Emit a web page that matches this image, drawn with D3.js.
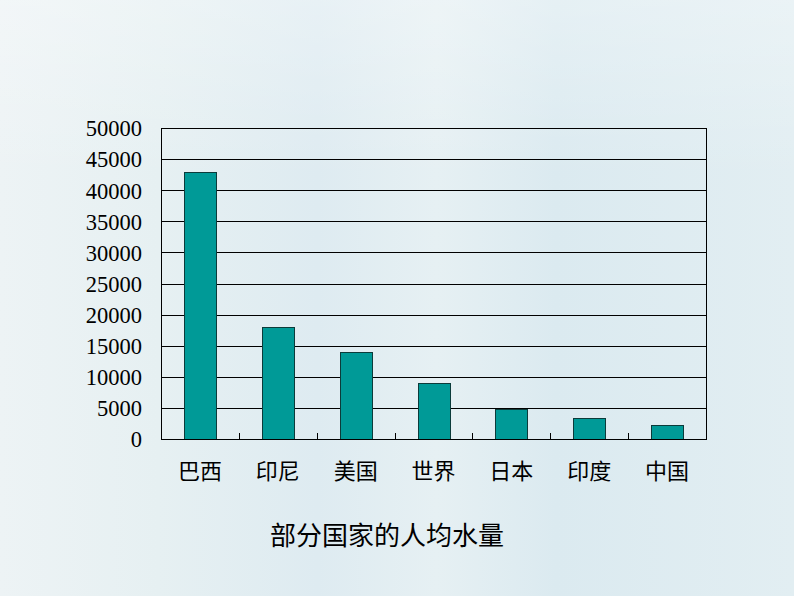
<!DOCTYPE html>
<html>
<head>
<meta charset="utf-8">
<script src="https://cdn.jsdelivr.net/npm/d3@7/dist/d3.min.js"></script>
<style>
  html, body { margin: 0; padding: 0; }
  body { width: 794px; height: 596px; overflow: hidden; }
  .ynum { font-family: "Liberation Serif", "Times New Roman", "DejaVu Serif", serif; }
  .cjk { font-family: "Noto Sans CJK SC", "Noto Sans", sans-serif; }
</style>
</head>
<body>
<svg id="chart" width="794" height="596"></svg>
<script>
// data
const countries = ["巴西", "印尼", "美国", "世界", "日本", "印度", "中国"];
const waterPerPerson = [43000, 18000, 14000, 9000, 4800, 3400, 2200];
const yTicks = [0, 5000, 10000, 15000, 20000, 25000, 30000, 35000, 40000, 45000, 50000];
const chartTitle = "部分国家的人均水量";

const svg = d3.select("#chart");
const W = 794, H = 596;
const plot = { left: 161, right: 706, top: 128, bottom: 439 };

// background: pale blue with soft light streaks
const defs = svg.append("defs");
const bg = defs.append("linearGradient").attr("id", "bg").attr("x1", 0).attr("y1", 0).attr("x2", 1).attr("y2", 0);
[["0%", "#edf3f5"], ["20%", "#e6f0f2"], ["40%", "#deebf1"], ["55%", "#e6f0f3"], ["70%", "#dbeaf0"], ["100%", "#e2eef2"]]
  .forEach(([o, c]) => bg.append("stop").attr("offset", o).attr("stop-color", c));
const fade = defs.append("linearGradient").attr("id", "fade").attr("x1", 0).attr("y1", 0).attr("x2", 0).attr("y2", 1);
fade.append("stop").attr("offset", "0%").attr("stop-color", "#ffffff").attr("stop-opacity", 0.3);
fade.append("stop").attr("offset", "30%").attr("stop-color", "#ffffff").attr("stop-opacity", 0);
svg.append("rect").attr("width", W).attr("height", H).attr("fill", "#e0ecf1");
svg.append("rect").attr("width", W).attr("height", H).attr("fill", "url(#bg)");
svg.append("rect").attr("width", W).attr("height", H).attr("fill", "url(#fade)");

const x = d3.scaleBand().domain(countries).range([plot.left, plot.right]).paddingInner(0).paddingOuter(0);
const y = d3.scaleLinear().domain([0, 50000]).range([plot.bottom, plot.top]);
const barW = 32;

// gridlines
svg.append("g").selectAll("line").data(yTicks).join("line")
  .attr("x1", plot.left).attr("x2", plot.right)
  .attr("y1", d => Math.round(y(d)) + 0.5).attr("y2", d => Math.round(y(d)) + 0.5)
  .attr("stroke", "#000").attr("stroke-width", 1);

// bars
svg.append("g").selectAll("rect").data(countries).join("rect")
  .attr("x", d => Math.round(x(d) + x.bandwidth() / 2 - barW / 2) + 0.5)
  .attr("y", (d, i) => Math.round(y(waterPerPerson[i])) + 0.5)
  .attr("width", barW)
  .attr("height", (d, i) => Math.round(y(0)) - Math.round(y(waterPerPerson[i])))
  .attr("fill", "#009a97")
  .attr("stroke", "#0c3b3a").attr("stroke-width", 1);

// category tick marks between bands, pointing up into the plot
svg.append("g").selectAll("line").data(countries.slice(1)).join("line")
  .attr("x1", d => Math.round(x(d)) + 0.5).attr("x2", d => Math.round(x(d)) + 0.5)
  .attr("y1", plot.bottom).attr("y2", plot.bottom - 6)
  .attr("stroke", "#000").attr("stroke-width", 1);

// plot frame
svg.append("rect")
  .attr("x", plot.left + 0.5).attr("y", plot.top + 0.5)
  .attr("width", plot.right - plot.left).attr("height", plot.bottom - plot.top)
  .attr("fill", "none").attr("stroke", "#000").attr("stroke-width", 1);

// y axis labels
const yAxis = d3.axisLeft(y).tickValues(yTicks).tickSize(0).tickPadding(19).tickFormat(d3.format("d"));
const ya = svg.append("g").attr("transform", `translate(${plot.left},0)`).call(yAxis)
  .attr("font-family", null).attr("font-size", null);
ya.select(".domain").remove();
ya.selectAll("text").attr("class", "ynum")
  .style("font-size", "22.5px").attr("fill", "#000").attr("dy", "0.35em");

// x axis labels
const xAxis = d3.axisBottom(x).tickSize(0).tickPadding(24);
const xa = svg.append("g").attr("transform", `translate(0,${plot.bottom})`).call(xAxis)
  .attr("font-family", null).attr("font-size", null);
xa.select(".domain").remove();
xa.selectAll("text").attr("class", "cjk")
  .style("font-size", "22px").attr("fill", "#000");

// caption
svg.append("text").attr("class", "cjk")
  .attr("x", 387).attr("y", 545)
  .attr("text-anchor", "middle")
  .style("font-size", "26px").attr("fill", "#000")
  .text(chartTitle);
</script>
</body>
</html>
